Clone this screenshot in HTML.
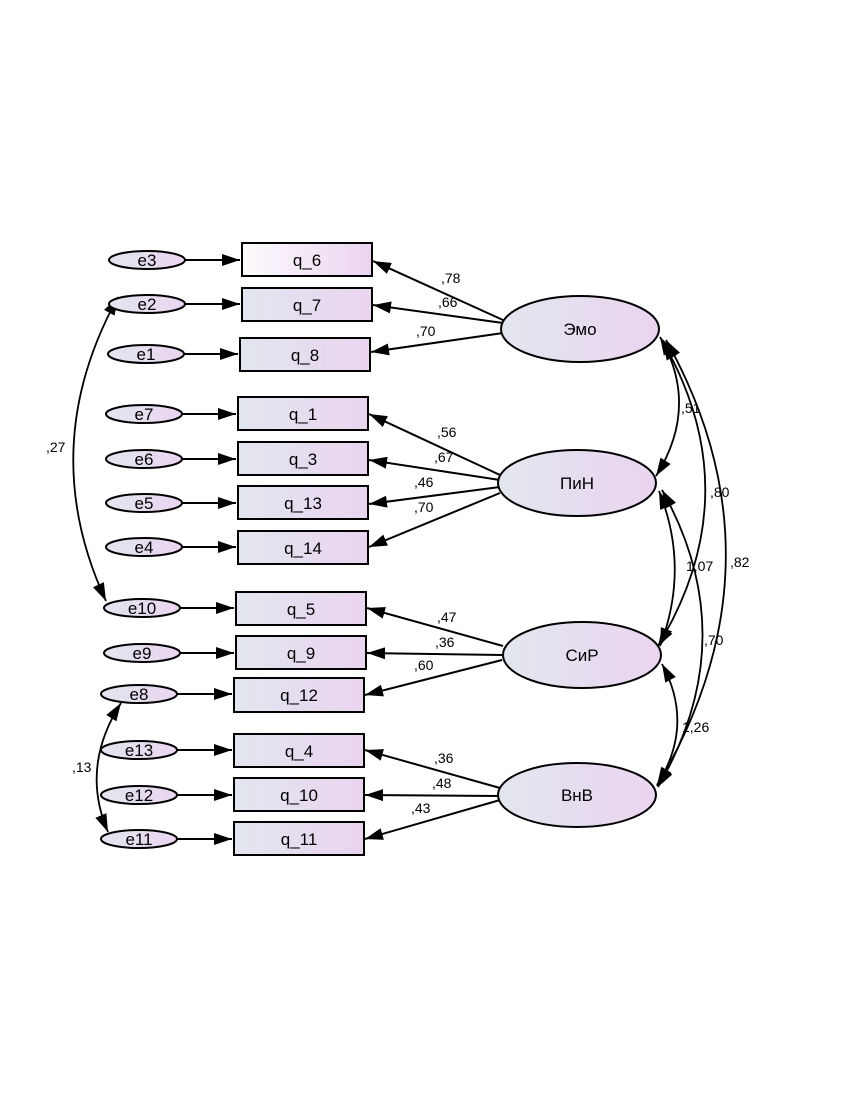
<!DOCTYPE html>
<html><head><meta charset="utf-8"><style>
html,body{margin:0;padding:0;background:#fff}
svg{display:block}
text{font-family:"Liberation Sans",Arial,sans-serif;fill:#000}
</style></head><body>
<svg width="850" height="1100" viewBox="0 0 850 1100" xmlns="http://www.w3.org/2000/svg">
<defs>
<linearGradient id="g" x1="0" x2="1" y1="0" y2="0"><stop offset="0" stop-color="#e2e6ee"/><stop offset="1" stop-color="#ead4f0"/></linearGradient>
<linearGradient id="g2" x1="0" x2="1" y1="0" y2="0"><stop offset="0" stop-color="#fdfbfd"/><stop offset="1" stop-color="#ead4f0"/></linearGradient>
<marker id="a" viewBox="0 0 18 12" refX="18" refY="6" markerWidth="18" markerHeight="12" markerUnits="userSpaceOnUse" orient="auto-start-reverse"><path d="M0,0 L18,6 L0,12 z" fill="#000"/></marker>
</defs>
<g stroke="#000" stroke-width="2" fill="none">
<path d="M185,260H240" marker-end="url(#a)"/>
<path d="M185,304H240" marker-end="url(#a)"/>
<path d="M184,354H238" marker-end="url(#a)"/>
<path d="M182,414H236" marker-end="url(#a)"/>
<path d="M182,459H236" marker-end="url(#a)"/>
<path d="M182,503H236" marker-end="url(#a)"/>
<path d="M182,547H236" marker-end="url(#a)"/>
<path d="M180,608H234" marker-end="url(#a)"/>
<path d="M180,653H234" marker-end="url(#a)"/>
<path d="M177,694H232" marker-end="url(#a)"/>
<path d="M177,750H232" marker-end="url(#a)"/>
<path d="M177,795H232" marker-end="url(#a)"/>
<path d="M177,839H232" marker-end="url(#a)"/>
<path d="M503,320L373,261" marker-end="url(#a)"/>
<path d="M503,323L373,305" marker-end="url(#a)"/>
<path d="M503,333L371,352" marker-end="url(#a)"/>
<path d="M500,475L369,414" marker-end="url(#a)"/>
<path d="M500,480L369,460" marker-end="url(#a)"/>
<path d="M500,487L369,504" marker-end="url(#a)"/>
<path d="M500,493L369,547" marker-end="url(#a)"/>
<path d="M503,646L367,608" marker-end="url(#a)"/>
<path d="M502,655L367,653" marker-end="url(#a)"/>
<path d="M502,660L365,695" marker-end="url(#a)"/>
<path d="M500,788L365,750" marker-end="url(#a)"/>
<path d="M499,796L365,795" marker-end="url(#a)"/>
<path d="M500,800L365,839" marker-end="url(#a)"/>
<path d="M660,337Q700,406 656,476" marker-start="url(#a)" marker-end="url(#a)" stroke-width="1.8"/>
<path d="M663,342Q750,494 658,646" marker-start="url(#a)" marker-end="url(#a)" stroke-width="1.8"/>
<path d="M666,340Q790,562 657,786" marker-start="url(#a)" marker-end="url(#a)" stroke-width="1.8"/>
<path d="M659,491Q690,568 660,646" marker-start="url(#a)" marker-end="url(#a)" stroke-width="1.8"/>
<path d="M662,490Q745,638 658,787" marker-start="url(#a)" marker-end="url(#a)" stroke-width="1.8"/>
<path d="M662,664Q695,725 657,785" marker-start="url(#a)" marker-end="url(#a)" stroke-width="1.8"/>
<path d="M118,297Q35,448 106,601" marker-start="url(#a)" marker-end="url(#a)" stroke-width="1.8"/>
<path d="M121,703Q80,767 108,832" marker-start="url(#a)" marker-end="url(#a)" stroke-width="1.8"/>
</g>
<g stroke="#000" stroke-width="2">
<ellipse cx="147" cy="260" rx="38" ry="9" fill="url(#g)"/>
<ellipse cx="147" cy="304" rx="38" ry="9" fill="url(#g)"/>
<ellipse cx="146" cy="354" rx="38" ry="9" fill="url(#g)"/>
<ellipse cx="144" cy="414" rx="38" ry="9" fill="url(#g)"/>
<ellipse cx="144" cy="459" rx="38" ry="9" fill="url(#g)"/>
<ellipse cx="144" cy="503" rx="38" ry="9" fill="url(#g)"/>
<ellipse cx="144" cy="547" rx="38" ry="9" fill="url(#g)"/>
<ellipse cx="142" cy="608" rx="38" ry="9" fill="url(#g)"/>
<ellipse cx="142" cy="653" rx="38" ry="9" fill="url(#g)"/>
<ellipse cx="139" cy="694" rx="38" ry="9" fill="url(#g)"/>
<ellipse cx="139" cy="750" rx="38" ry="9" fill="url(#g)"/>
<ellipse cx="139" cy="795" rx="38" ry="9" fill="url(#g)"/>
<ellipse cx="139" cy="839" rx="38" ry="9" fill="url(#g)"/>
<rect x="242" y="243" width="130" height="33" fill="url(#g2)"/>
<rect x="242" y="288" width="130" height="33" fill="url(#g)"/>
<rect x="240" y="338" width="130" height="33" fill="url(#g)"/>
<rect x="238" y="397" width="130" height="33" fill="url(#g)"/>
<rect x="238" y="442" width="130" height="33" fill="url(#g)"/>
<rect x="238" y="486" width="130" height="33" fill="url(#g)"/>
<rect x="238" y="531" width="130" height="33" fill="url(#g)"/>
<rect x="236" y="592" width="130" height="33" fill="url(#g)"/>
<rect x="236" y="636" width="130" height="33" fill="url(#g)"/>
<rect x="234" y="678" width="130" height="34" fill="url(#g)"/>
<rect x="234" y="734" width="130" height="33" fill="url(#g)"/>
<rect x="234" y="778" width="130" height="33" fill="url(#g)"/>
<rect x="234" y="822" width="130" height="33" fill="url(#g)"/>
<ellipse cx="580" cy="329" rx="79" ry="33" fill="url(#g)"/>
<ellipse cx="577" cy="483" rx="79" ry="33" fill="url(#g)"/>
<ellipse cx="582" cy="655" rx="79" ry="33" fill="url(#g)"/>
<ellipse cx="577" cy="795" rx="79" ry="32" fill="url(#g)"/>
</g>
<g font-size="17" text-anchor="middle">
<text x="147" y="266">e3</text><text x="147" y="310">e2</text><text x="146" y="360">e1</text>
<text x="144" y="420">e7</text><text x="144" y="465">e6</text><text x="144" y="509">e5</text><text x="144" y="553">e4</text>
<text x="142" y="614">e10</text><text x="142" y="659">e9</text><text x="139" y="700">e8</text>
<text x="139" y="756">e13</text><text x="139" y="801">e12</text><text x="139" y="845">e11</text>
<text x="307" y="266">q_6</text><text x="307" y="311">q_7</text><text x="305" y="361">q_8</text>
<text x="303" y="420">q_1</text><text x="303" y="465">q_3</text><text x="303" y="509">q_13</text><text x="303" y="554">q_14</text>
<text x="301" y="615">q_5</text><text x="301" y="659">q_9</text><text x="299" y="701">q_12</text>
<text x="299" y="757">q_4</text><text x="299" y="801">q_10</text><text x="299" y="845">q_11</text>
<text x="580" y="335">Эмо</text><text x="577" y="489">ПиН</text><text x="582" y="661">СиР</text><text x="577" y="801">ВнВ</text>
</g>
<g font-size="14">
<text x="441" y="283">,78</text><text x="438" y="307">,66</text><text x="416" y="336">,70</text>
<text x="437" y="437">,56</text><text x="434" y="462">,67</text><text x="414" y="487">,46</text><text x="414" y="512">,70</text>
<text x="437" y="622">,47</text><text x="435" y="647">,36</text><text x="414" y="670">,60</text>
<text x="434" y="763">,36</text><text x="432" y="788">,48</text><text x="411" y="813">,43</text>
<text x="681" y="413">,51</text><text x="710" y="497">,80</text><text x="730" y="567">,82</text>
<text x="686" y="571">1,07</text><text x="704" y="645">,70</text><text x="682" y="732">1,26</text>
<text x="46" y="452">,27</text><text x="72" y="772">,13</text>
</g>
</svg>
</body></html>
